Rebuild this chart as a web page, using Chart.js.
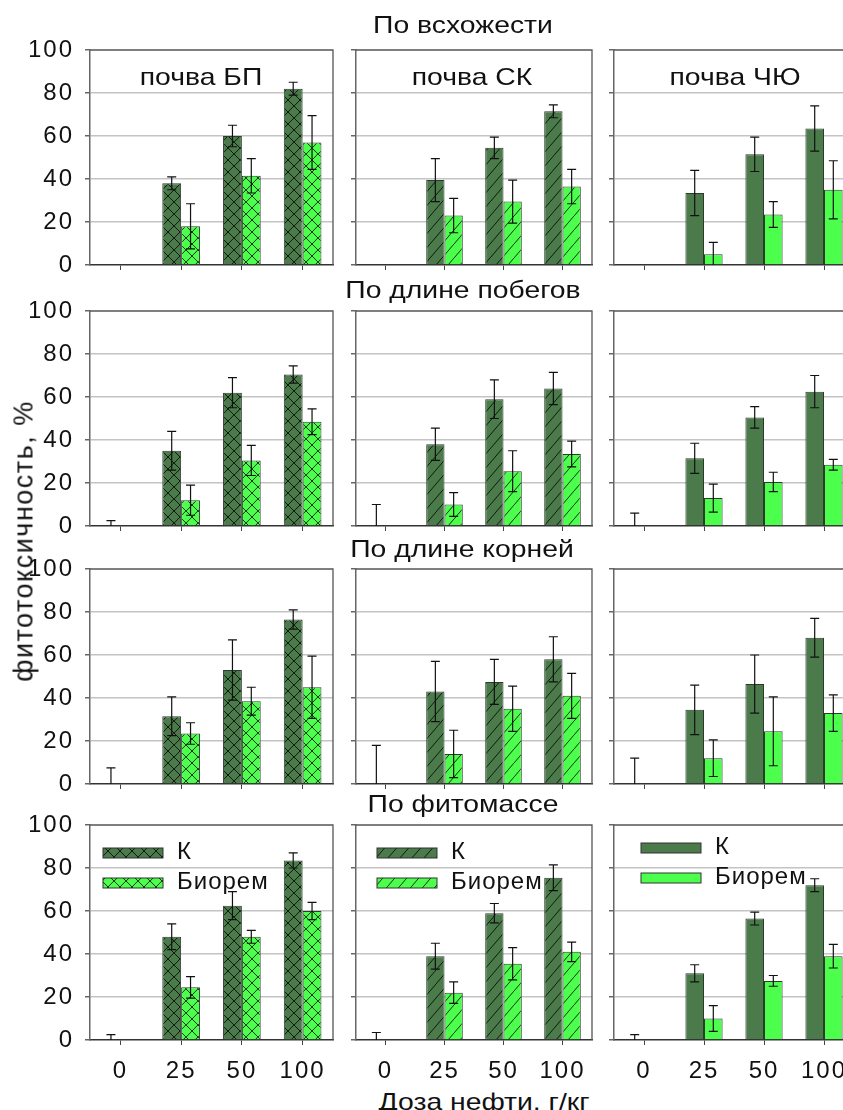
<!DOCTYPE html>
<html>
<head>
<meta charset="utf-8">
<script src="https://cdn.jsdelivr.net/npm/chart.js@4.4.1/dist/chart.umd.min.js"></script>
<style>
body { margin: 0; background: #fff; }
#page { position: relative; width: 843px; height: 1110px; overflow: hidden; font-family: "Liberation Sans", Arial, sans-serif; color: #111; }
#page canvas { position: absolute; }
.lbl { position: absolute; font-size: 24px; white-space: nowrap; transform: translate(-50%, -50%) scaleX(1.18); }
.ytitle { font-size: 27px; letter-spacing: 1.5px; transform: translate(-50%, -50%) rotate(-90deg); }
</style>
</head>
<body>
<div id="page"></div>
<script>
// categories and names
const doses = ['0', '25', '50', '100'];
const rowTitles = ['По всхожести', 'По длине побегов', 'По длине корней', 'По фитомассе'];
const soils = ['почва БП', 'почва СК', 'почва ЧЮ'];
const seriesNames = ['К', 'Биорем'];
const yTicks = [0, 20, 40, 60, 80, 100];

// values per soil (БП, СК, ЧЮ), each over doses
const germK    = [[0, 38, 60, 82], [0, 39.5, 54.5, 71.5], [0, 33.5, 51.5, 63.5]];
const germB    = [[0, 18, 41.5, 57], [0, 23, 29.5, 36.5], [0, 5, 23.5, 35]];
const germKErr = [[0, 3, 5, 3], [0, 10, 5, 3], [0, 10.5, 8, 10.5]];
const germBErr = [[0, 10.5, 8, 12.5], [0, 8, 10, 8], [0, 5.5, 6, 13.5]];

const shootK    = [[0, 35, 62, 70.5], [0, 38, 59, 64], [0, 31.5, 50.5, 62.5]];
const shootB    = [[0, 12, 30.5, 48.5], [0, 10, 25.5, 33.5], [0, 13, 20.5, 28.5]];
const shootKErr = [[2.5, 9, 7, 4], [10, 7.5, 9, 7.5], [6, 7, 5, 7.5]];
const shootBErr = [[0, 7, 7, 6], [0, 5.5, 9.5, 6], [0, 6.5, 4.5, 2.5]];

const rootK    = [[0, 31.5, 53, 76.5], [0, 43, 47.5, 58], [0, 34.5, 46.5, 68]];
const rootB    = [[0, 23.5, 38.5, 45], [0, 14, 35, 41], [0, 12, 24.5, 33]];
const rootKErr = [[7.5, 9, 14, 4.5], [18, 14, 10.5, 10.5], [12, 11.5, 13.5, 9]];
const rootBErr = [[0, 5, 6.5, 14.5], [0, 11, 10.5, 10.5], [0, 8.5, 16, 8.5]];

const massK    = [[0, 48, 62.5, 83.5], [0, 39, 59, 75.5], [0, 31, 56.5, 72]];
const massB    = [[0, 24.5, 48, 60], [0, 22, 35.5, 41], [0, 10, 27.5, 39]];
const massKErr = [[2.5, 6, 6.5, 3.5], [3.5, 6, 4.5, 6], [2.5, 4, 3, 3]];
const massBErr = [[0, 5, 3, 4], [0, 5, 7.5, 4.5], [0, 6, 2.5, 5.5]];

const rows = [
  { k: germK, b: germB, ke: germKErr, be: germBErr },
  { k: shootK, b: shootB, ke: shootKErr, be: shootBErr },
  { k: rootK, b: rootB, ke: rootKErr, be: rootBErr },
  { k: massK, b: massB, ke: massKErr, be: massBErr }
];

// layout
const colLeft = [90, 356, 614];
const colWidth = [243, 236, 240];
const rowTop = [50, 311, 569, 825];
const plotH = 215;
const legendOffset = [[13, 23], [21, 23], [27, 18]];
const darkGreen = '#4b7b4b';
const lightGreen = '#4dff4d';
const hatch = ['cross', 'diag', 'solid'];
const FONT = '"Liberation Sans", Arial, sans-serif';

function makePattern(bg, kind) {
  if (kind === 'solid') return bg;
  const w = 12, h = kind === 'cross' ? 12 : 14;
  const t = document.createElement('canvas');
  t.width = w; t.height = h;
  const g = t.getContext('2d');
  g.fillStyle = bg;
  g.fillRect(0, 0, w, h);
  g.strokeStyle = 'rgba(0,0,0,0.8)';
  g.lineWidth = 1;
  g.beginPath();
  g.moveTo(-1, h + 1.2); g.lineTo(w + 1, -1.2);
  if (kind === 'cross') { g.moveTo(-1, -1); g.lineTo(w + 1, h + 1); }
  g.stroke();
  return g.createPattern(t, 'repeat');
}

// the reference text is a bit wider than Arial, widen canvas text
const wideText = {
  id: 'wideText',
  beforeDraw(chart) { chart.ctx.letterSpacing = '2px'; }
};

const errorBars = {
  id: 'errorBars',
  afterDatasetsDraw(chart) {
    const ctx = chart.ctx, y = chart.scales.y;
    ctx.save();
    ctx.strokeStyle = '#111';
    ctx.lineWidth = 1.2;
    chart.data.datasets.forEach((ds, i) => {
      chart.getDatasetMeta(i).data.forEach((bar, j) => {
        const e = ds.errors[j];
        if (!e) return;
        const v = ds.data[j];
        const top = y.getPixelForValue(v + e);
        const bot = y.getPixelForValue(Math.max(v - e, 0));
        ctx.beginPath();
        ctx.moveTo(bar.x, top); ctx.lineTo(bar.x, bot);
        ctx.moveTo(bar.x - 4.5, top); ctx.lineTo(bar.x + 4.5, top);
        if (v - e > 0) { ctx.moveTo(bar.x - 4.5, bot); ctx.lineTo(bar.x + 4.5, bot); }
        ctx.stroke();
      });
    });
    ctx.restore();
  }
};

const frame = {
  id: 'frame',
  beforeDatasetsDraw(chart) {
    const a = chart.chartArea, ctx = chart.ctx;
    ctx.save();
    ctx.strokeStyle = '#555';
    ctx.lineWidth = 1.3;
    ctx.beginPath();
    ctx.moveTo(a.left, a.top); ctx.lineTo(a.right, a.top); ctx.lineTo(a.right, a.bottom);
    ctx.stroke();
    ctx.restore();
  }
};

const boxLegend = {
  id: 'boxLegend',
  afterDraw(chart, args, opts) {
    if (!opts.show) return;
    const a = chart.chartArea, ctx = chart.ctx;
    ctx.save();
    ctx.font = '24px ' + FONT;
    ctx.letterSpacing = '1px';
    ctx.textBaseline = 'middle';
    chart.data.datasets.forEach((ds, i) => {
      const x = a.left + opts.dx, y = a.top + opts.dy + i * 30;
      ctx.fillStyle = ds.backgroundColor;
      ctx.fillRect(x, y, 60, 10);
      ctx.strokeStyle = '#333';
      ctx.lineWidth = 1;
      ctx.strokeRect(x, y, 60, 10);
      ctx.fillStyle = '#111';
      ctx.fillText(ds.label, x + 74, y + 4);
    });
    ctx.restore();
  }
};

const page = document.getElementById('page');

function addLabel(text, x, y, cls) {
  const d = document.createElement('div');
  d.className = 'lbl' + (cls ? ' ' + cls : '');
  d.textContent = text;
  d.style.left = x + 'px';
  d.style.top = y + 'px';
  page.appendChild(d);
}

rows.forEach((row, r) => {
  for (let c = 0; c < 3; c++) {
    const yW = c === 0 ? 60 : 10;
    const topPad = 16, rightPad = 4;
    const xH = r === 3 ? 44 : 8;
    const cv = document.createElement('canvas');
    cv.width = yW + colWidth[c] + rightPad;
    cv.height = topPad + plotH + xH;
    cv.style.left = (colLeft[c] - yW) + 'px';
    cv.style.top = (rowTop[r] - topPad) + 'px';
    page.appendChild(cv);

    new Chart(cv, {
      type: 'bar',
      data: {
        labels: doses,
        datasets: [{
          label: seriesNames[0],
          data: row.k[c],
          errors: row.ke[c],
          backgroundColor: makePattern(darkGreen, hatch[c]),
          borderColor: '#2e3a2e',
          borderWidth: 1
        }, {
          label: seriesNames[1],
          data: row.b[c],
          errors: row.be[c],
          backgroundColor: makePattern(lightGreen, hatch[c]),
          borderColor: '#2e3a2e',
          borderWidth: 1
        }]
      },
      options: {
        responsive: false,
        animation: false,
        devicePixelRatio: 1,
        layout: { padding: { top: topPad, right: rightPad, left: 0, bottom: 0 } },
        datasets: { bar: { barPercentage: 1, categoryPercentage: 0.62 } },
        plugins: {
          legend: { display: false },
          tooltip: { enabled: false },
          boxLegend: { show: r === 3, dx: legendOffset[c][0], dy: legendOffset[c][1] }
        },
        scales: {
          x: {
            afterFit(s) { s.height = xH; s.paddingLeft = 0; s.paddingRight = 0; },
            grid: { offset: false, color: 'rgba(0,0,0,0)', tickColor: '#444', tickLength: 5 },
            border: { color: '#333', width: 1.5 },
            ticks: { display: r === 3, padding: 12, color: '#111', font: { family: FONT, size: 24 } }
          },
          y: {
            min: 0, max: 100,
            afterBuildTicks(s) { s.ticks = yTicks.map(v => ({ value: v })); },
            afterFit(s) { s.width = yW; s.paddingTop = 0; s.paddingBottom = 0; },
            grid: {
              color: ctx => (ctx.tick && (ctx.tick.value === 0 || ctx.tick.value === 100)) ? 'rgba(0,0,0,0)' : '#c4c4c4',
              lineWidth: 1.5,
              tickColor: '#666',
              tickLength: 5
            },
            border: { color: '#666', width: 1.5 },
            ticks: { display: c === 0, padding: 11, color: '#111', font: { family: FONT, size: 24 } }
          }
        }
      },
      plugins: [wideText, frame, errorBars, boxLegend]
    });
  }
});

// texts
addLabel(rowTitles[0], 463, 25);
addLabel(rowTitles[1], 463, 290);
addLabel(rowTitles[2], 462, 549);
addLabel(rowTitles[3], 463, 804);
addLabel(soils[0], 201, 77);
addLabel(soils[1], 472, 77);
addLabel(soils[2], 735, 77);
addLabel('фитотоксичность, %', 24, 541, 'ytitle');
addLabel('Доза нефти, г/кг', 484, 1102);
</script>
</body>
</html>
